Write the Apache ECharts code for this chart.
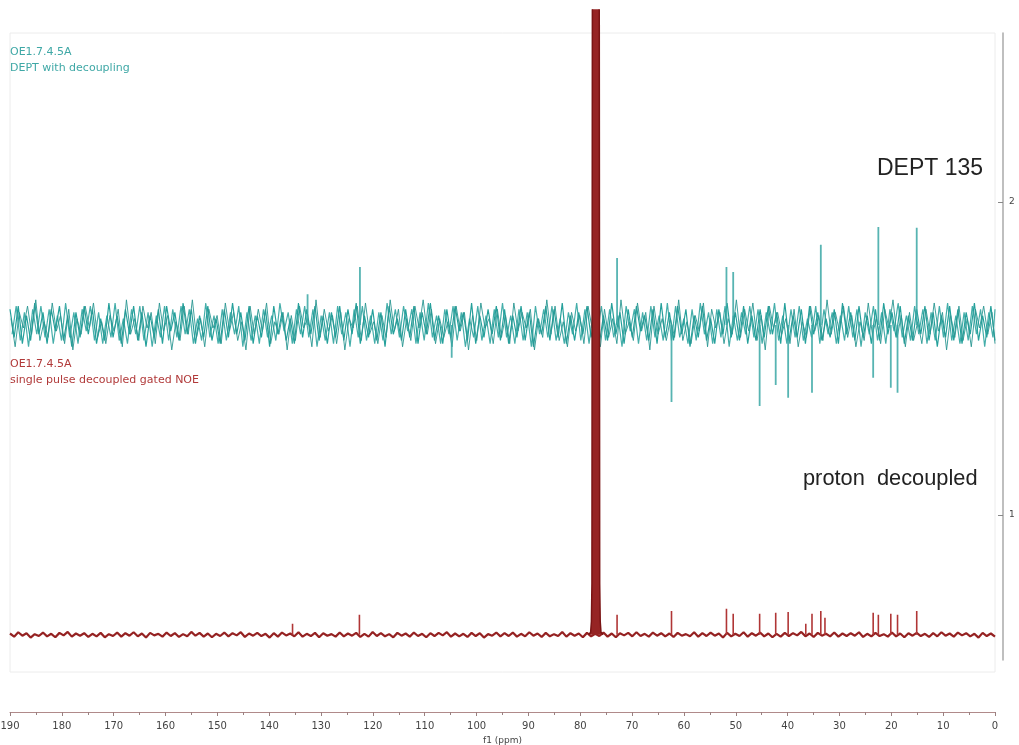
<!DOCTYPE html>
<html>
<head>
<meta charset="utf-8">
<script src="https://cdn.jsdelivr.net/npm/echarts@6/dist/echarts.min.js"></script>
<style>html,body{margin:0;padding:0;background:#fff;}#c{width:1019px;height:745px;}</style>
</head>
<body>
<div id="c"></div>
<script>
// ---- data ----
const ppmMin = 0, ppmMax = 190;
const axisTicksY = [1, 2];
const tealBase = 1.607;
const redBase = 0.617;
// teal (DEPT 135) baseline noise, hundredths of intensity unit, read across 190 -> 0 ppm
const tealNoise = [
5,-4,6,-6,3,-5,7,-3,4,-6,5,-2,6,-5,3,-7,4,-4,6,-3,
5,-6,2,-5,7,-4,3,-6,5,-3,6,-5,4,-7,3,-4,5,-6,6,-2,
4,-5,7,-3,5,-6,3,-4,6,-5,2,-6,5,-4,7,-3,4,-5,6,-6,
3,-4,5,-7,6,-3,4,-5,2,-6,7,-4,5,-3,6,-5,3,-6,4,-4,
6,-5,5,-3,7,-6,3,-4,5,-5,4,-7,6,-3,2,-5,5,-4,6,-6,
4,-3,7,-5,3,-6,5,-4,6,-2,4,-5,7,-6,3,-4,5,-3,6,-5,
5,-6,3,-4,6,-5,4,-7,2,-3,6,-5,5,-4,7,-6,3,-5,4,-3,
6,-4,5,-6,3,-5,7,-3,4,-6,5,-4,6,-2,3,-5,5,-6,7,-4,
4,-5,6,-3,5,-7,3,-4,6,-5,2,-6,5,-3,7,-4,4,-5,6,-6,
3,-5,5,-4,6,-3,4,-6,7,-5,3,-4,5,-6,6,-3,4,-5,2,-4,
5,-6,7,-3,4,-5,6,-4,3,-6,5,-5,7,-3,4,-4,6,-6,3,-5,
5,-3,6,-5,4,-7,3,-4,6,-5,5,-6,4,-3,7,-5,3,-4,6,-5
];
// second pass of teal noise, read between the samples of the first
const tealNoise2 = [
-3,6,-5,4,-7,5,-3,6,-4,5,-6,3,-5,7,-4,4,-6,5,-2,6,
-5,4,-6,3,-4,7,-5,2,-6,5,-3,6,-5,4,-7,3,-4,6,-5,5,
-4,6,-3,5,-6,2,-5,7,-4,3,-6,5,-5,4,-3,6,-7,4,-5,3,
-6,5,-4,3,-5,7,-2,4,-6,5,-3,6,-4,5,-7,3,-5,4,-6,6,
-3,4,-7,5,-4,6,-5,3,-6,4,-5,7,-3,5,-4,6,-2,5,-6,4,
-5,7,-4,3,-6,5,-3,6,-5,4,-7,2,-4,6,-5,3,-6,5,-4,7,
-4,3,-6,5,-5,4,-7,6,-3,5,-4,6,-5,2,-6,4,-3,7,-5,5,
-6,4,-3,6,-5,5,-4,3,-7,6,-2,5,-6,4,-5,6,-4,3,-5,7,
-5,6,-4,2,-6,5,-5,7,-3,4,-6,5,-4,6,-7,3,-5,4,-3,6,
-4,5,-6,4,-3,7,-5,3,-6,5,-4,6,-5,2,-4,6,-6,5,-3,4,
-6,3,-5,6,-4,5,-7,4,-3,6,-5,4,-6,5,-2,7,-4,3,-5,6,
-3,5,-6,4,-5,6,-4,7,-5,3,-6,4,-5,6,-3,5,-7,4,-4,5
];
// third pass of teal noise (irregular strokes)
const tealNoise3 = [
2,-7,4,-1,6,-3,8,-5,1,-4,7,-2,3,-6,5,-8,2,-3,6,-1,
7,-4,1,-6,3,-2,5,-7,8,-3,2,-5,6,-1,4,-6,7,-2,3,-8,
1,-5,6,-3,8,-4,2,-7,5,-1,3,-6,7,-2,4,-5,1,-8,6,-3,
5,-2,7,-6,1,-3,4,-8,3,-5,6,-1,2,-7,8,-4,5,-2,3,-6,
4,-8,2,-1,6,-5,7,-3,1,-6,3,-4,8,-2,5,-7,2,-5,6,-1,
8,-3,5,-6,2,-4,1,-7,6,-2,4,-8,3,-5,7,-1,2,-6,5,-4,
3,-6,7,-2,4,-1,5,-8,2,-4,8,-3,6,-5,1,-7,4,-2,3,-6,
6,-1,3,-7,5,-4,2,-6,8,-3,1,-5,7,-2,4,-8,6,-3,2,-5,
2,-4,8,-5,1,-6,3,-2,7,-7,5,-1,4,-6,2,-3,8,-4,5,-2,
7,-5,3,-8,6,-1,4,-3,2,-6,5,-7,1,-4,6,-2,3,-5,8,-3,
4,-2,6,-4,3,-7,1,-5,7,-3,2,-6,5,-1,8,-4,3,-7,4,-5,
1,-6,5,-3,7,-2,4,-8,3,-4,6,-5,2,-7,5,-1,6,-3,4,-6
];
// red (proton decoupled) baseline noise, thousandths of intensity unit
const redNoise = [
4,-6,8,-3,5,-9,2,-4,7,-5,3,-8,6,-2,9,-6,4,-3,5,-7,
3,-5,6,-8,2,-4,7,-6,5,-3,8,-5,4,-9,6,-2,3,-6,7,-4,
5,-7,2,-5,9,-3,6,-6,4,-8,3,-4,7,-5,5,-2,8,-7,4,-3,
6,-4,3,-9,5,-6,7,-2,4,-5,8,-6,3,-4,6,-8,5,-3,2,-6,
7,-5,4,-3,6,-7,3,-6,9,-4,5,-5,2,-8,6,-3,4,-6,7,-4,
3,-8,5,-4,6,-2,8,-6,4,-5,3,-7,6,-4,5,-9,2,-3,7,-5,
5,-4,7,-6,3,-5,8,-3,4,-7,6,-5,2,-4,9,-6,5,-3,4,-8,
6,-5,3,-4,7,-6,4,-8,5,-2,6,-5,8,-4,3,-6,7,-3,5,-5,
4,-7,6,-3,2,-5,8,-6,5,-4,7,-3,4,-9,6,-5,3,-4,8,-6,
5,-3,7,-5,4,-8,3,-6,6,-4,5,-2,9,-5,4,-7,6,-3,3,-5,
7,-6,4,-4,5,-3,8,-7,3,-5,6,-4,2,-6,7,-5,4,-8,5,-3,
6,-4,3,-7,5,-5,8,-3,4,-6,7,-2,5,-5,3,-9,6,-4,4,-6
];
// DEPT peaks (ppm, peak tip intensity)
const tealPeakPpm = [132.6, 122.5, 104.8, 72.9, 62.4, 51.8, 50.5, 45.4, 42.3, 39.9, 35.3, 33.6, 23.5, 22.5, 20.1, 18.8, 15.1];
const tealPeakTop = [1.705, 1.792, 1.502, 1.821, 1.361, 1.792, 1.776, 1.348, 1.415, 1.374, 1.390, 1.863, 1.438, 1.920, 1.406, 1.390, 1.917];
// proton decoupled peaks
const redPeakPpm = [135.5, 122.6, 72.9, 62.4, 51.8, 50.5, 45.4, 42.3, 39.9, 36.5, 35.3, 33.6, 32.8, 23.5, 22.5, 20.1, 18.8, 15.1];
const redPeakTop = [0.652, 0.681, 0.681, 0.693, 0.700, 0.684, 0.684, 0.687, 0.690, 0.652, 0.684, 0.693, 0.671, 0.687, 0.681, 0.684, 0.681, 0.693];
// CDCl3 solvent peak profile
const solventPpm = [78.4, 78.0, 77.85, 77.75, 77.65, 77.0, 76.35, 76.25, 76.15, 76.0, 75.6];
const solventVal = [0.617, 0.625, 0.660, 0.780, 3.0, 3.0, 3.0, 0.780, 0.660, 0.625, 0.617];

// ---- build ----
function noiseSeries(noise, base, scale, shift) {
  const n = noise.length;
  const step = (ppmMax - ppmMin) / (n - 1);
  return noise.map((v, i) => [Math.max(ppmMin, ppmMax - i * step - shift * step), base + v * scale]);
}
function peakSeries(ppm, top, base) {
  const d = [];
  ppm.forEach((p, i) => { d.push([p, base], [p, top[i]], [p, '-']); });
  return d;
}
const teal = '#25a09b';
const red = '#952222';

const chart = echarts.init(document.getElementById('c'), null, {renderer: 'canvas'});
chart.setOption({
  animation: false,
  backgroundColor: '#ffffff',
  grid: [
    {left: 10, right: 24, top: 10, bottom: 73, outerBoundsMode: 'none', containLabel: false},
    {left: 10, right: 16, top: 33, bottom: 85, outerBoundsMode: 'none', containLabel: false}
  ],
  xAxis: [
    {gridIndex: 0, type: 'value', min: ppmMin, max: ppmMax, interval: 10, inverse: true,
     position: 'bottom', offset: 40,
     axisLine: {show: true, lineStyle: {color: '#b08a8a', width: 1}},
     axisTick: {show: true, length: 4, lineStyle: {color: '#9a8080'}},
     minorTick: {show: true, splitNumber: 2, length: 3, lineStyle: {color: '#9a8080'}},
     splitLine: {show: false},
     axisLabel: {fontSize: 10, color: '#444', margin: 9, fontFamily: 'DejaVu Sans'},
     name: 'f1 (ppm)', nameLocation: 'middle', nameGap: 24,
     nameTextStyle: {fontSize: 9, color: '#444', fontFamily: 'DejaVu Sans'}},
    {gridIndex: 1, type: 'value', min: ppmMin, max: ppmMax, inverse: true, show: false}
  ],
  yAxis: [
    {gridIndex: 0, type: 'value', min: 0.498, max: 2.613, show: false},
    {gridIndex: 1, type: 'value', min: 0.537, max: 2.540, position: 'right',
     axisLine: {show: true, lineStyle: {color: '#aaaaaa', width: 1.5}},
     axisTick: {show: true, inside: true, length: 5, customValues: axisTicksY, lineStyle: {color: '#888'}},
     axisLabel: {show: true, customValues: axisTicksY, fontSize: 9, color: '#444', margin: 6, fontFamily: 'DejaVu Sans'},
     splitLine: {show: false}}
  ],
  graphic: [
    {type: 'rect', shape: {x: 10, y: 33, width: 985, height: 639}, style: {fill: 'none', stroke: '#ececec', lineWidth: 1}, z: 0, silent: true},
    {type: 'text', left: 10, top: 47, style: {text: 'OE1.7.4.5A', fill: '#3fa8a6', font: '11px "DejaVu Sans"'}, z: 10},
    {type: 'text', left: 10, top: 63, style: {text: 'DEPT with decoupling', fill: '#3fa8a6', font: '11px "DejaVu Sans"'}, z: 10},
    {type: 'text', left: 10, top: 359, style: {text: 'OE1.7.4.5A', fill: '#b13a3a', font: '11px "DejaVu Sans"'}, z: 10},
    {type: 'text', left: 10, top: 375, style: {text: 'single pulse decoupled gated NOE', fill: '#b13a3a', font: '11px "DejaVu Sans"'}, z: 10},
    {type: 'text', left: 877, top: 157, style: {text: 'DEPT 135', fill: '#222', font: '23px "Liberation Sans"'}, z: 10},
    {type: 'text', left: 803, top: 468, style: {text: 'proton  decoupled', fill: '#222', font: '21.8px "Liberation Sans"'}, z: 10}
  ],
  series: [
    {type: 'line', xAxisIndex: 0, yAxisIndex: 0, showSymbol: false, symbol: 'none',
     data: noiseSeries(tealNoise, tealBase, 0.01, 0), lineStyle: {color: teal, width: 1.2}, z: 2},
    {type: 'line', xAxisIndex: 0, yAxisIndex: 0, showSymbol: false, symbol: 'none',
     data: noiseSeries(tealNoise2, tealBase, 0.01, 0.5), lineStyle: {color: teal, width: 1.2, opacity: 0.85}, z: 2},
    {type: 'line', xAxisIndex: 0, yAxisIndex: 0, showSymbol: false, symbol: 'none',
     data: noiseSeries(tealNoise3, tealBase, 0.01, 0.25), lineStyle: {color: '#2a9792', width: 1.0, opacity: 0.9}, z: 2},
    {type: 'line', xAxisIndex: 0, yAxisIndex: 0, showSymbol: false, symbol: 'none', connectNulls: false,
     data: peakSeries(tealPeakPpm, tealPeakTop, tealBase), lineStyle: {color: '#3aa7a4', width: 1.8, opacity: 0.85}, z: 2},
    {type: 'line', xAxisIndex: 0, yAxisIndex: 0, showSymbol: false, symbol: 'none',
     data: noiseSeries(redNoise, redBase, 0.001, 0), lineStyle: {color: red, width: 2.2}, z: 3},
    {type: 'line', xAxisIndex: 0, yAxisIndex: 0, showSymbol: false, symbol: 'none', connectNulls: false,
     data: peakSeries(redPeakPpm, redPeakTop, redBase), lineStyle: {color: '#b03636', width: 1.6}, z: 3},
    {type: 'line', xAxisIndex: 0, yAxisIndex: 0, showSymbol: false, symbol: 'none', clip: true,
     data: solventPpm.map((p, i) => [p, solventVal[i]]),
     lineStyle: {color: '#7a1414', width: 1.5}, areaStyle: {color: '#962424', opacity: 1, origin: redBase}, z: 4}
  ]
});
</script>
</body>
</html>
